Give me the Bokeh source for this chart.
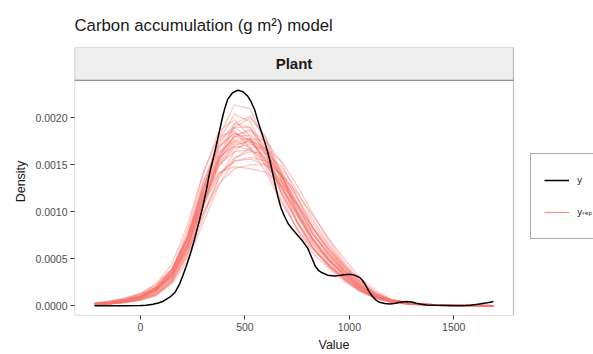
from bokeh.plotting import figure
from bokeh.models import (Legend, LegendItem, FixedTicker, NumeralTickFormatter,
                          BoxAnnotation, Label, Range1d)
from bokeh.embed import file_html
from bokeh.resources import INLINE

TITLE = "Carbon accumulation (g m\u00b2) model"
FACET = "Plant"
X_LABEL = "Value"
Y_LABEL = "Density"
X_TICKS = [0, 500, 1000, 1500]
Y_TICKS = [0.0, 0.0005, 0.0010, 0.0015, 0.0020]
LABEL_Y = "y"
LABEL_YREP = "y\u1d63\u2091\u209a"

DENSITY_UNIT = 1e-4  # values below are density x 10^4

# observed density (y)
Y_X = [-220, -150, -75, 0, 27, 60, 85, 107, 140, 165, 187, 203, 219, 240, 259, 280, 298,
       315, 330, 345, 358, 378, 394, 406, 418, 442, 466, 490, 514, 530, 546, 570, 594, 610,
       622, 634, 646, 658, 673, 690, 708, 729, 752, 777, 801, 820, 837, 855, 870, 890, 906,
       930, 950, 975, 1001, 1025, 1049, 1062, 1075, 1086, 1097, 1110, 1120, 1133, 1145,
       1170, 1193, 1215, 1240, 1273, 1300, 1320, 1345, 1369, 1410, 1450, 1490, 1528, 1560,
       1580, 1605, 1624, 1645, 1660, 1675, 1690]
Y_DENS = [0, 0, 0, 0.02, 0.05, 0.15, 0.28, 0.45, 0.9, 1.4, 2.3, 3.2, 4.2, 5.6, 7.1, 8.9, 10.5,
          12.3, 14.0, 15.4, 16.6, 18.6, 20.2, 21.2, 22.0, 22.7, 22.95, 22.8, 22.3, 21.7, 20.9,
          19.1, 17.5, 16.3, 15.2, 14.0, 12.8, 11.6, 10.4, 9.5, 8.7, 8.1, 7.5, 6.85, 6.1, 5.1,
          4.2, 3.7, 3.5, 3.3, 3.2, 3.15, 3.2, 3.3, 3.35, 3.25, 3.0, 2.7, 2.3, 1.85, 1.4, 1.0,
          0.75, 0.5, 0.36, 0.22, 0.18, 0.24, 0.35, 0.43, 0.38, 0.25, 0.14, 0.07, 0.03, 0.02,
          0.0, 0.0, 0.01, 0.05, 0.11, 0.18, 0.25, 0.3, 0.37, 0.43]

# replicated densities (y_rep)
YREP_X = [-220, -150, -75, 0, 75, 150, 225, 300, 375, 450, 525, 600, 675, 750, 825, 900,
          975, 1050, 1125, 1200, 1300, 1400, 1500, 1600, 1690]
YREP_DENS = [
    [0.1,0.2,0.4,0.7,1.4,2.9,6.4,12.2,17.6,20.4,19.6,16.2,12.0,8.8,6.2,4.4,3.0,1.8,0.9,0.4,0.15,0.08,0.04,0.01,0],
    [0.3,0.5,0.8,1.3,2.3,3.9,7.0,11.0,14.0,15.4,15.6,15.0,13.2,10.8,8.2,6.0,4.2,2.5,1.3,0.6,0.25,0.1,0.05,0.02,0],
    [0.1,0.2,0.4,0.7,1.2,2.5,5.2,9.4,13.6,16.4,17.8,17.6,15.2,11.6,8.2,5.8,3.8,2.2,1.1,0.5,0.2,0.1,0.04,0.01,0],
    [0.2,0.4,0.7,1.3,2.3,4.4,8.6,14.2,18.0,18.6,16.8,14.2,11.0,8.2,6.0,4.4,3.0,1.8,0.9,0.45,0.2,0.1,0.05,0.02,0],
    [0.15,0.3,0.5,0.9,1.8,3.5,7.2,12.6,16.8,19.0,19.0,16.6,12.6,9.0,6.2,4.2,2.8,1.6,0.8,0.35,0.15,0.07,0.03,0.01,0],
    [0.2,0.4,0.7,1.2,2.0,3.7,7.2,11.6,14.2,14.8,14.6,14.2,12.9,10.8,8.4,6.2,4.2,2.4,1.3,0.6,0.22,0.1,0.05,0.02,0],
    [0.1,0.2,0.3,0.6,1.2,2.7,6.0,12.0,18.0,21.4,21.0,17.0,11.8,8.0,5.6,4.0,2.6,1.5,0.8,0.35,0.15,0.07,0.03,0.01,0],
    [0.15,0.3,0.5,0.9,1.6,3.1,6.4,11.0,15.0,17.0,17.6,16.8,14.2,10.8,7.6,5.4,3.6,2.0,1.0,0.45,0.2,0.1,0.04,0.02,0],
    [0.1,0.2,0.35,0.6,1.1,2.3,4.8,8.8,12.8,15.6,16.8,16.8,15.4,12.8,9.8,7.0,4.6,2.7,1.4,0.65,0.25,0.1,0.05,0.02,0],
    [0.2,0.35,0.6,1.0,1.9,3.7,7.6,13.2,17.0,18.4,17.6,15.6,12.6,9.6,7.0,5.0,3.3,1.9,1.0,0.45,0.18,0.08,0.04,0.01,0],
    [0.15,0.25,0.45,0.8,1.6,3.2,6.8,12.0,16.2,18.0,18.2,16.6,13.4,9.8,6.9,4.8,3.2,1.8,0.9,0.42,0.18,0.08,0.03,0.01,0],
    [0.2,0.35,0.6,1.0,1.7,3.3,6.4,10.6,14.0,15.4,15.8,15.4,14.0,11.6,8.8,6.4,4.3,2.6,1.3,0.6,0.22,0.1,0.05,0.02,0],
    [0.15,0.3,0.55,1.0,1.9,3.8,8.0,14.0,18.6,19.8,18.0,14.8,11.2,8.2,6.0,4.3,2.9,1.7,0.9,0.42,0.17,0.08,0.03,0.01,0],
    [0.1,0.2,0.4,0.75,1.4,2.9,6.0,10.8,15.4,18.0,18.8,17.4,14.0,10.2,7.0,4.8,3.2,1.8,0.9,0.4,0.16,0.07,0.03,0.01,0],
    [0.25,0.45,0.75,1.2,2.1,3.9,7.2,11.6,15.0,16.4,16.6,15.8,13.8,11.0,8.2,6.0,4.0,2.4,1.2,0.55,0.2,0.1,0.05,0.02,0],
    [0.15,0.3,0.5,0.85,1.6,3.3,7.0,12.6,17.2,19.4,19.0,16.0,12.2,8.8,6.2,4.3,2.8,1.6,0.8,0.38,0.15,0.07,0.03,0.01,0],
    [0.2,0.35,0.55,0.95,1.8,3.4,6.6,11.2,15.2,17.2,17.4,16.2,13.8,10.8,7.8,5.6,3.8,2.2,1.1,0.5,0.2,0.09,0.04,0.02,0],
    [0.1,0.2,0.35,0.65,1.2,2.6,5.6,10.6,15.8,19.4,20.2,17.8,13.2,9.0,6.2,4.2,2.8,1.6,0.8,0.36,0.15,0.07,0.03,0.01,0],
    [0.2,0.4,0.65,1.1,2.0,3.8,7.4,12.2,15.8,17.0,16.6,15.4,13.2,10.6,7.8,5.6,3.7,2.2,1.1,0.5,0.2,0.09,0.04,0.02,0],
    [0.15,0.25,0.45,0.8,1.5,3.0,6.2,11.2,15.8,18.2,18.6,17.0,13.8,10.0,7.0,4.9,3.3,1.9,0.95,0.42,0.17,0.08,0.03,0.01,0],
    [0.2,0.35,0.6,1.0,1.7,3.1,5.8,9.8,13.0,14.6,15.0,15.0,14.0,12.0,9.6,7.2,5.0,3.0,1.6,0.7,0.26,0.11,0.05,0.02,0],
    [0.1,0.25,0.45,0.8,1.6,3.4,7.2,13.0,17.6,19.0,17.8,15.2,12.0,9.0,6.6,4.8,3.2,1.9,0.95,0.42,0.17,0.08,0.03,0.01,0],
    [0.15,0.3,0.5,0.9,1.7,3.2,6.4,11.4,15.6,17.4,17.6,16.4,13.8,10.6,7.6,5.4,3.6,2.1,1.05,0.48,0.19,0.08,0.04,0.01,0],
    [0.2,0.35,0.6,1.0,1.9,3.6,7.0,12.0,16.0,18.0,17.6,15.6,12.8,9.8,7.2,5.2,3.5,2.0,1.05,0.5,0.2,0.09,0.04,0.02,0],
    [0.1,0.2,0.4,0.7,1.3,2.7,5.6,9.8,13.6,15.8,16.4,16.2,14.8,12.2,9.2,6.6,4.4,2.6,1.3,0.6,0.22,0.1,0.05,0.02,0],
    [0.15,0.3,0.5,0.9,1.7,3.5,7.2,12.6,16.8,18.4,17.6,15.4,12.6,9.6,7.0,5.0,3.4,2.0,1.0,0.46,0.19,0.09,0.04,0.01,0],
    [0.2,0.35,0.55,0.9,1.7,3.2,6.2,10.8,14.8,16.8,17.2,16.6,14.4,11.4,8.4,6.0,4.0,2.3,1.15,0.52,0.2,0.09,0.04,0.02,0],
    [0.1,0.2,0.35,0.6,1.1,2.5,5.4,10.4,15.4,19.0,20.0,18.0,14.0,9.8,6.6,4.5,3.0,1.7,0.85,0.38,0.15,0.07,0.03,0.01,0],
    [0.15,0.3,0.55,1.0,1.9,3.7,7.4,12.6,16.4,17.6,16.8,15.0,12.6,10.0,7.6,5.6,3.8,2.2,1.1,0.5,0.2,0.09,0.04,0.02,0],
    [0.2,0.35,0.6,1.0,1.8,3.4,6.6,11.6,15.6,17.6,17.8,16.4,13.6,10.2,7.2,5.0,3.4,2.0,1.0,0.45,0.18,0.08,0.03,0.01,0],
]

# layout constants (panel geometry; the frame also spans the legend area on the right)
X_START, PANEL_RIGHT, FRAME_X_END = -316.0, 1786.0, 2169.0
Y_START, PANEL_TOP = -0.000105, 0.0024
STRIP_TOP = 0.00275
FONT = "Liberation Sans"
REP_COLOR = "#F8766D"
BORDER = "#333333"

p = figure(width=593, height=354, output_backend="svg", toolbar_location=None,
           x_range=Range1d(X_START, FRAME_X_END), y_range=Range1d(Y_START, STRIP_TOP),
           min_border_left=74, min_border_right=0, min_border_top=47, min_border_bottom=38)

p.title.text = TITLE
p.title.text_font = FONT
p.title.text_font_size = "16.8px"
p.title.text_font_style = "normal"
p.title.text_color = "#1a1a1a"
p.title.align = "left"
p.title.standoff = 25

p.xgrid.visible = False
p.ygrid.visible = False
p.outline_line_color = None
p.background_fill_color = "white"
p.border_fill_color = "white"

# facet strip (under the data)
p.add_layout(BoxAnnotation(left=X_START, right=PANEL_RIGHT, bottom=PANEL_TOP, top=STRIP_TOP,
                           fill_color="#eeeeee", fill_alpha=1, line_color=BORDER,
                           line_width=1.2, level="underlay"))

rep_xs = [YREP_X for _ in YREP_DENS]
rep_ys = [[v * DENSITY_UNIT for v in c] for c in YREP_DENS]
p.multi_line(rep_xs, rep_ys, line_color=REP_COLOR, line_alpha=0.4, line_width=1.3)
r_y = p.line(Y_X, [v * DENSITY_UNIT for v in Y_DENS], line_color="black", line_width=1.5)

# panel border
p.add_layout(BoxAnnotation(left=X_START, right=PANEL_RIGHT, bottom=Y_START, top=PANEL_TOP,
                           fill_alpha=0, line_color=BORDER, line_width=1.2, level="overlay"))
p.add_layout(Label(x=(X_START + PANEL_RIGHT) / 2, y=(PANEL_TOP + STRIP_TOP) / 2, text=FACET,
                   text_align="center", text_baseline="middle", text_font=FONT,
                   text_font_size="15px", text_font_style="bold", text_color="#1a1a1a",
                   level="overlay"))

for ax in (p.xaxis[0], p.yaxis[0]):
    ax.axis_line_color = None
    ax.major_tick_line_color = BORDER
    ax.major_tick_in = 0
    ax.major_tick_out = 4
    ax.minor_tick_line_color = None
    ax.major_label_text_font = FONT
    ax.major_label_text_font_size = "10.5px"
    ax.major_label_text_color = "#4d4d4d"
    ax.axis_label_text_font = FONT
    ax.axis_label_text_font_size = "12.5px"
    ax.axis_label_text_font_style = "normal"
    ax.axis_label_text_color = "#1a1a1a"
    ax.major_label_standoff = 3
    ax.axis_label_standoff = 4

p.xaxis[0].ticker = FixedTicker(ticks=X_TICKS)
p.yaxis[0].ticker = FixedTicker(ticks=Y_TICKS)
p.yaxis[0].formatter = NumeralTickFormatter(format="0.0000")
p.xaxis[0].axis_label = X_LABEL
p.yaxis[0].axis_label = Y_LABEL

# legend (placed inside the wide frame, right of the panel)
nan = float("nan")
r_rep = p.line([nan], [nan], line_color=REP_COLOR, line_width=1.2, line_alpha=0.8)
legend = Legend(items=[LegendItem(label=LABEL_Y, renderers=[r_y]),
                       LegendItem(label=LABEL_YREP, renderers=[r_rep])],
                location=(456, 76), margin=0, padding=13, glyph_width=25, glyph_height=26,
                spacing=6, label_standoff=8, label_text_font="DejaVu Sans",
                label_text_font_size="9px", label_text_color="#1a1a1a",
                border_line_color="#555555", border_line_width=1,
                background_fill_alpha=1)
p.add_layout(legend)

open("out.html", "w").write(file_html(p, INLINE))
